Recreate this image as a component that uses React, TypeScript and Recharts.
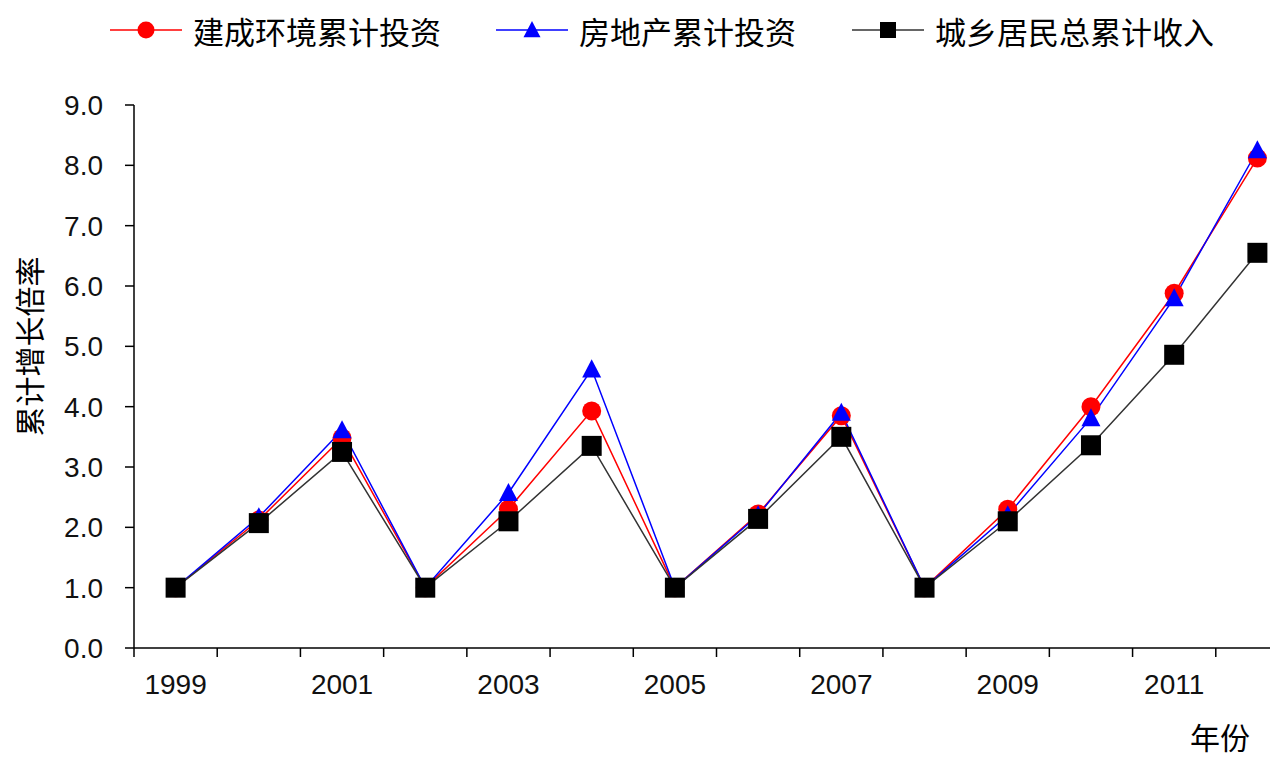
import React from "react"
import { LineChart, Line, XAxis, YAxis, Legend } from "recharts"

// years on the category axis
const years = [
  "1999", "2000", "2001", "2002", "2003", "2004", "2005",
  "2006", "2007", "2008", "2009", "2010", "2011", "2012",
]

// cumulative growth multiples
const builtEnvInvest = [1.0, 2.12, 3.48, 1.0, 2.3, 3.93, 1.0, 2.22, 3.85, 1.0, 2.3, 4.0, 5.88, 8.12]
const realEstateInvest = [1.0, 2.17, 3.61, 1.0, 2.57, 4.62, 1.0, 2.2, 3.9, 1.0, 2.2, 3.81, 5.8, 8.25]
const residentIncome = [1.0, 2.07, 3.25, 1.0, 2.1, 3.35, 1.0, 2.14, 3.5, 1.0, 2.1, 3.36, 4.86, 6.55]

const seriesNames = ["建成环境累计投资", "房地产累计投资", "城乡居民总累计收入"]
const yTicks = [0, 1, 2, 3, 4, 5, 6, 7, 8, 9]

const data = years.map((year, i) => ({
  year,
  built: builtEnvInvest[i],
  estate: realEstateInvest[i],
  income: residentIncome[i],
}))

const series = [
  { key: "built", name: seriesNames[0], color: "#ff0000", line: "#ff0000", marker: "circle" },
  { key: "estate", name: seriesNames[1], color: "#0000ff", line: "#0000ff", marker: "triangle" },
  { key: "income", name: seriesNames[2], color: "#000000", line: "#333333", marker: "square" },
]

const CJK = '"Noto Sans CJK SC", "Noto Sans", sans-serif'
const NUM = '"Liberation Sans", Arial, sans-serif'

// chart layout
const CHART_W = 1310
const CHART_H = 757
const MARGIN = { top: 45, right: 11, bottom: 0, left: 0 }
const Y_W = 134
const TICK_SIZE = 9
const TICK_GAP = 17
const band = (CHART_W - MARGIN.left - MARGIN.right - Y_W) / years.length

function Marker({ kind, cx, cy, size, color }: any) {
  if (cx == null || cy == null) return null
  if (kind === "circle") return <circle cx={cx} cy={cy} r={size / 2} fill={color} />
  if (kind === "triangle") {
    const h = size * 0.95
    return (
      <polygon
        points={`${cx},${cy - h * 0.55} ${cx - size / 2},${cy + h * 0.45} ${cx + size / 2},${cy + h * 0.45}`}
        fill={color}
      />
    )
  }
  return <rect x={cx - size / 2} y={cy - size / 2} width={size} height={size} fill={color} />
}

// category tick: boundary tick mark on the left edge of each year, label on every other year
function YearTick(p: any) {
  const axisY = p.y - TICK_SIZE - TICK_GAP
  const left = p.x - band / 2
  return (
    <g>
      <line x1={left} y1={axisY} x2={left} y2={axisY + TICK_SIZE} stroke="#000" strokeWidth={1.5} />
      {p.index % 2 === 0 && (
        <text x={p.x} y={p.y} dy="0.71em" textAnchor="middle" fill="#111" fontSize={28} fontFamily={NUM}>
          {p.payload.value}
        </text>
      )}
    </g>
  )
}

function renderLegend() {
  return (
    <div style={{ height: 60, display: "flex", alignItems: "center", paddingLeft: 110 }}>
      {series.map((s, i) => (
        <div key={s.key} style={{ display: "flex", alignItems: "center", marginRight: i === 0 ? 55 : 56 }}>
          <svg width={72} height={30}>
            <line x1={0} y1={15} x2={72} y2={15} stroke={s.line} strokeWidth={1.5} />
            <Marker kind={s.marker} cx={36} cy={15} size={s.marker === "square" ? 16 : 17} color={s.color} />
          </svg>
          <span style={{ fontFamily: CJK, fontSize: 31, color: "#000", marginLeft: 11, lineHeight: "31px" }}>
            {s.name}
          </span>
        </div>
      ))}
    </div>
  )
}

export default function App() {
  return (
    <div style={{ position: "absolute", left: 0, top: 0, width: 1270, height: 757, overflow: "hidden", background: "#fff" }}>
      <LineChart width={CHART_W} height={CHART_H} data={data} margin={MARGIN}>
        <XAxis
          dataKey="year"
          interval={0}
          padding={{ left: band / 2, right: band / 2 }}
          height={CHART_H - 648}
          axisLine={{ stroke: "#000", strokeWidth: 1.5 }}
          tickLine={false}
          tickSize={TICK_SIZE}
          tickMargin={TICK_GAP}
          tick={<YearTick />}
          label={{
            value: "年份",
            position: "insideBottomRight",
            offset: 0,
            dx: -49,
            dy: -8,
            style: { fontFamily: CJK, fontSize: 30, fill: "#000" },
          }}
        />
        <YAxis
          width={Y_W}
          domain={[0, 9]}
          ticks={yTicks}
          interval={0}
          tickFormatter={(v: number) => v.toFixed(1)}
          tickSize={TICK_SIZE}
          tickMargin={22}
          axisLine={{ stroke: "#000", strokeWidth: 1.5 }}
          tickLine={{ stroke: "#000", strokeWidth: 1.5 }}
          tick={{ fill: "#111", fontSize: 28, fontFamily: NUM }}
          label={{
            value: "累计增长倍率",
            angle: -90,
            position: "center",
            dx: -37,
            dy: -30,
            style: { fontFamily: CJK, fontSize: 30, fill: "#000" },
          }}
        />
        <Legend verticalAlign="top" content={renderLegend} wrapperStyle={{ top: 0, left: 0, width: 1270 }} />
        {series.map((s) => (
          <Line
            key={s.key}
            dataKey={s.key}
            name={s.name}
            stroke={s.line}
            strokeWidth={1.5}
            isAnimationActive={false}
            dot={(p: any) => (
              <Marker
                key={`${s.key}-${p.index}`}
                kind={s.marker}
                cx={p.cx}
                cy={p.cy}
                size={s.marker === "square" ? 20 : 19}
                color={s.color}
              />
            )}
            activeDot={false}
          />
        ))}
      </LineChart>
    </div>
  )
}
